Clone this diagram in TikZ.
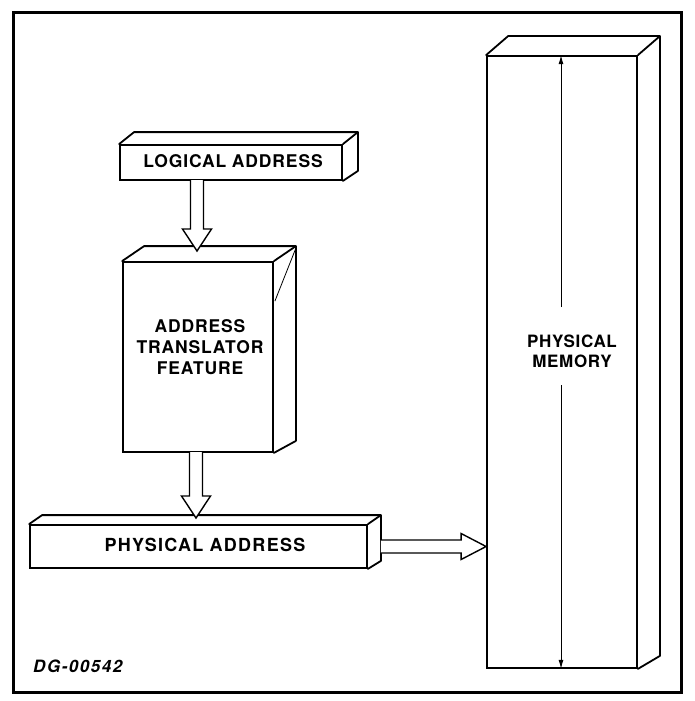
\documentclass[tikz,border=0pt]{standalone}
\usepackage{fontspec}
\setmainfont{TeX Gyre Heros}
\usetikzlibrary{arrows.meta,calc}

\tikzset{
  face/.style={draw, line width=1.8pt, inner sep=0pt, fill=white},
  edge/.style={line width=1.8pt, line join=round, line cap=round},
  label/.style={font=\fontsize{17.5}{20}\selectfont\bfseries\addfontfeatures{LetterSpace=5}, align=center, inner sep=0pt},
  blockarrow/.style={draw, line width=1.4pt, fill=white, line join=miter},
  span/.style={line width=1pt, -{Latex[length=9pt,width=5pt]}}
}

% vertical hollow block arrow from #1 down to the tip #2
\newcommand{\downblock}[2]{%
  \path[blockarrow] let \p1=(#1), \p2=(#2) in
    (\x1-6.5pt,\y1) -- (\x1-6.5pt,\y2+22pt) -- (\x1-14.5pt,\y2+22pt) -- (\x1,\y2)
    -- (\x1+14.5pt,\y2+22pt) -- (\x1+6.5pt,\y2+22pt) -- (\x1+6.5pt,\y1);}

\begin{document}
\begin{tikzpicture}[x=1pt,y=-1pt]
\useasboundingbox (0,0) rectangle (694,701);

% outer frame
\draw[line width=3pt] (13,13) rectangle (681,692);

% ---- logical address bar ----
\node[face, minimum width=222pt, minimum height=35pt] (logical) at (231,162.5) {};
\draw[edge] (logical.north west) -- ++(15,-12) -- ($(logical.north east)+(15,-12)$)
  -- ($(logical.south east)+(15,-10)$) -- (logical.south east);
\draw[edge] (logical.north east) -- ++(15,-12);
\node[label] (logtext) at (233,161) {LOGICAL ADDRESS};

% ---- address translator block ----
\node[face, minimum width=150pt, minimum height=190pt] (trans) at (198,357) {};
\draw[edge] (trans.north west) -- ++(22,-15) -- ($(trans.north east)+(22,-15)$)
  -- ($(trans.south east)+(22,-12)$) -- (trans.south east);
\draw[edge] (trans.north east) -- ++(22,-15);
\draw[line width=0.8pt] ($(trans.north east)+(22,-13)$) -- ($(trans.north east)+(1,40)$);
\node[label, text depth=0pt] (transtext) at (200,347) {ADDRESS\\[1pt]TRANSLATOR\\[1pt]FEATURE};

% ---- physical address bar ----
\node[face, minimum width=337pt, minimum height=43pt] (phys) at (198.5,546.5) {};
\draw[edge] (phys.north west) -- ++(13,-9) -- ($(phys.north east)+(13,-9)$)
  -- ($(phys.south east)+(13,-8)$) -- (phys.south east);
\draw[edge] (phys.north east) -- ++(13,-9);
\node[label, font=\fontsize{18}{20}\selectfont\bfseries\addfontfeatures{LetterSpace=7}] (phystext) at (205,545) {PHYSICAL ADDRESS};

% ---- physical memory column ----
\node[face, minimum width=150pt, minimum height=612pt] (mem) at (562,362) {};
\draw[edge] (mem.north west) -- ++(22,-19) -- ($(mem.north east)+(22,-19)$)
  -- ($(mem.south east)+(22,-13)$) -- (mem.south east);
\draw[edge] (mem.north east) -- ++(22,-19);
\node[label, font=\fontsize{17}{20}\selectfont\bfseries\addfontfeatures{LetterSpace=4}] (memtext) at (572,351) {PHYSICAL\\MEMORY};
\coordinate (spantop) at (561,307);
\coordinate (spanbot) at (561,385);
\draw[span] (spantop) -- (spantop |- mem.north);
\draw[span] (spanbot) -- (spanbot |- mem.south);

% ---- flow arrows ----
\coordinate (a1s) at (197,180);
\coordinate (a1t) at (197,251);
\downblock{a1s}{a1t}
\coordinate (a2s) at (196,452);
\coordinate (a2t) at (196,518);
\downblock{a2s}{a2t}

\coordinate (a3s) at ($(phys.east)+(13,0)$);
\path[blockarrow] let \p1=(a3s), \p2=(mem.west) in
  (\x1,\y1+6.5pt) -- (\x2-25pt,\y1+6.5pt) -- (\x2-25pt,\y1+13pt) -- (\x2,\y1)
  -- (\x2-25pt,\y1-13pt) -- (\x2-25pt,\y1-6.5pt) -- (\x1,\y1-6.5pt);

% drawing number
\node[font=\fontsize{17}{18}\selectfont\bfseries\itshape\addfontfeatures{LetterSpace=9}, anchor=west, inner sep=0pt] (dgnum) at (33,666) {DG-00542};
\end{tikzpicture}
\end{document}
